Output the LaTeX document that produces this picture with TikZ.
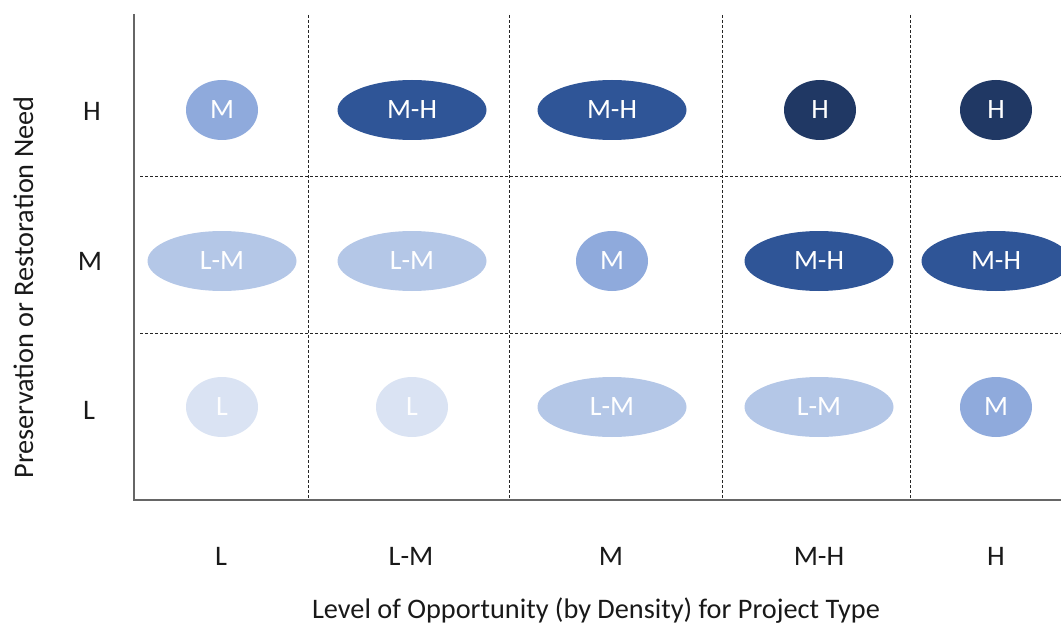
\documentclass[tikz,border=0pt]{standalone}
\usepackage{fontspec}
\setmainfont{Carlito}
\usetikzlibrary{shapes.geometric}
\definecolor{cL}{HTML}{DAE3F3}
\definecolor{cLM}{HTML}{B4C7E7}
\definecolor{cM}{HTML}{8FAADC}
\definecolor{cMH}{HTML}{2F5597}
\definecolor{cH}{HTML}{203864}
\tikzset{
  blob/.style={ellipse, inner sep=0pt, minimum height=60pt, text=white, font=\fontsize{28}{30}\selectfont},
  narrow/.style={blob, minimum width=72pt},
  wide/.style={blob, minimum width=149pt},
  lvL/.style={fill=cL},
  lvLM/.style={fill=cLM},
  lvM/.style={fill=cM},
  lvMH/.style={fill=cMH},
  lvH/.style={fill=cH},
  axislab/.style={font=\fontsize{28.3}{30}\selectfont, text=black!90, inner sep=0pt},
  gridline/.style={dash pattern=on 3pt off 2pt, line width=1pt, black!85},
  axisline/.style={line width=1.5pt, black!60}
}
\begin{document}
\begin{tikzpicture}[x=1pt,y=-1pt]
\useasboundingbox (0,0) rectangle (1061,623);
\clip (0,0) rectangle (1061,623);
% grid coordinates
\coordinate (v1t) at (308,15);  \coordinate (v1b) at (308,500);
\coordinate (v2t) at (509,15);  \coordinate (v2b) at (509,500);
\coordinate (v3t) at (722,15);  \coordinate (v3b) at (722,500);
\coordinate (v4t) at (910,15);  \coordinate (v4b) at (910,500);
\coordinate (h1l) at (140,177); \coordinate (h1r) at (1061,177);
\coordinate (h2l) at (140,333); \coordinate (h2r) at (1061,333);
\coordinate (ytop) at (134,14);
\coordinate (orig) at (134,500);
\coordinate (xend) at (1061,500);
% dashed grid
\draw[gridline] (v1t) -- (v1b);
\draw[gridline] (v2t) -- (v2b);
\draw[gridline] (v3t) -- (v3b);
\draw[gridline] (v4t) -- (v4b);
\draw[gridline] (h1l) -- (h1r);
\draw[gridline] (h2l) -- (h2r);
% axes
\draw[axisline] (ytop) -- (orig) -- (xend);
% row H
\node[narrow, lvM]  (hL)  at (222,110) {M};
\node[wide,   lvMH] (hLM) at (412,110) {M-H};
\node[wide,   lvMH] (hM)  at (612,110) {M-H};
\node[narrow, lvH]  (hMH) at (820,110) {H};
\node[narrow, lvH]  (hH)  at (996,110) {H};
% row M
\node[wide,   lvLM] (mL)  at (222,261) {L-M};
\node[wide,   lvLM] (mLM) at (412,261) {L-M};
\node[narrow, lvM]  (mM)  at (612,261) {M};
\node[wide,   lvMH] (mMH) at (819,261) {M-H};
\node[wide,   lvMH] (mH)  at (996,261) {M-H};
% row L
\node[narrow, lvL]  (lL)  at (222,407) {L};
\node[narrow, lvL]  (lLM) at (412,407) {L};
\node[wide,   lvLM] (lM)  at (612,407) {L-M};
\node[wide,   lvLM] (lMH) at (819,407) {L-M};
\node[narrow, lvM]  (lH)  at (996,407) {M};
% row labels
\node[axislab] (rH) at (92,111) {H};
\node[axislab] (rM) at (90,261) {M};
\node[axislab] (rL) at (89,410) {L};
% column labels
\node[axislab] (cLl)  at (221,556) {L};
\node[axislab] (cLMl) at (411,556) {L-M};
\node[axislab] (cMl)  at (611,556) {M};
\node[axislab] (cMHl) at (819,556) {M-H};
\node[axislab] (cHl)  at (996,556) {H};
% axis titles
\node[axislab, anchor=base] (xtitle) at (596,618) {Level of Opportunity (by Density) for Project Type};
\node[axislab, anchor=base, rotate=90] (ytitle) at (33,287.5) {Preservation or Restoration Need};
\end{tikzpicture}
\end{document}
